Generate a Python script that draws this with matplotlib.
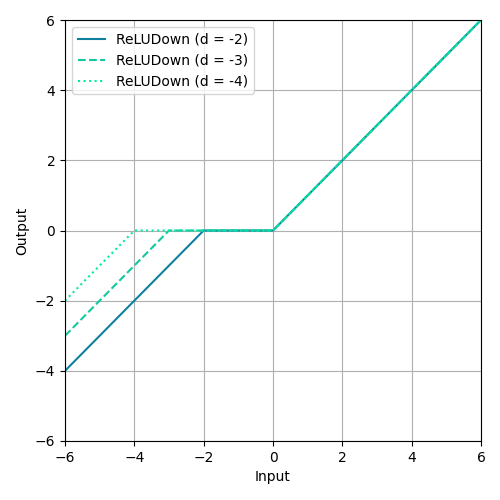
import matplotlib
matplotlib.use("Agg")
import matplotlib.pyplot as plt
import numpy as np

x = np.linspace(-6, 6, 601)
d_values = [-2, -3, -4]
styles = ['-', '--', ':']
colors = ['#0f80a0', '#12c8a0', '#00eca6']


def relu_down(x, d):
    return np.where(x > 0, x, np.where(x < d, x - d, 0.0))


fig, ax = plt.subplots(figsize=(5, 5), dpi=100)
fig.subplots_adjust(left=0.13, right=0.962, top=0.96, bottom=0.118)
for d, ls, c in zip(d_values, styles, colors):
    ax.plot(x, relu_down(x, d), ls, color=c, label=f'ReLUDown (d = {d})')
ax.set_xlim(-6, 6)
ax.set_ylim(-6, 6)
ax.set_xlabel('Input')
ax.set_ylabel('Output')
ax.grid(True, color='#b0b0b0')
ax.legend(loc='upper left')
fig.savefig('out.png')
